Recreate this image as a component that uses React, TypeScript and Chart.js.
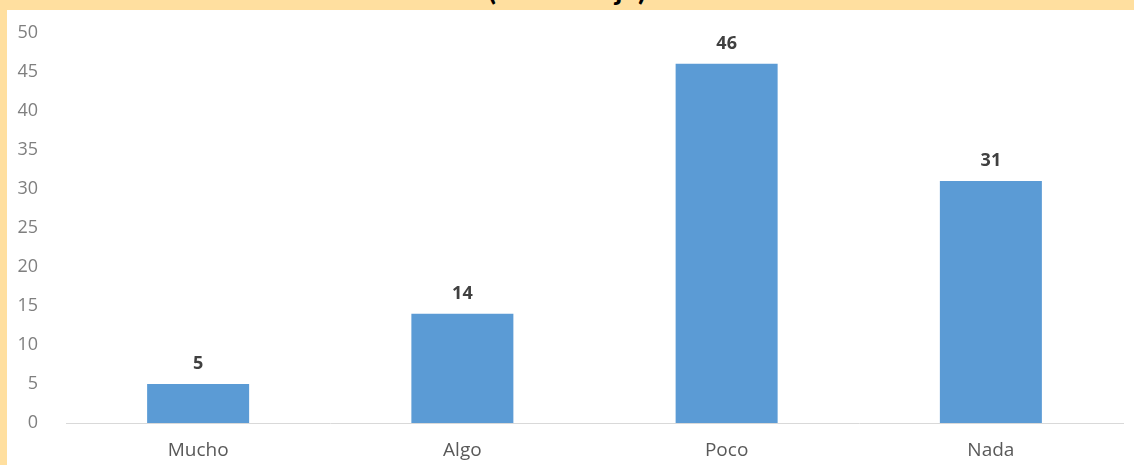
import React, { useEffect, useRef } from "react";
import { Chart, registerables } from "chart.js";

Chart.register(...registerables);

const categories = ["Mucho", "Algo", "Poco", "Nada"];
const values = [5, 14, 46, 31];
const titleText = "(Porcentaje)";

const dataLabelPlugin = {
  id: "dataLabels",
  afterDatasetsDraw(chart: any) {
    const ctx = chart.ctx;
    const meta = chart.getDatasetMeta(0);
    ctx.save();
    ctx.font = "bold 18px 'Open Sans'";
    ctx.fillStyle = "#404040";
    ctx.textAlign = "center";
    ctx.textBaseline = "middle";
    meta.data.forEach((bar: any, i: number) => {
      ctx.fillText(String(values[i]), bar.x, bar.y - 20);
    });
    ctx.restore();
  },
};

export default function App() {
  const ref = useRef<HTMLCanvasElement>(null);
  useEffect(() => {
    document.body.style.margin = "0";
    const chart = new Chart(ref.current!, {
      type: "bar",
      data: {
        labels: categories,
        datasets: [
          {
            data: values,
            backgroundColor: "#5B9BD5",
            borderWidth: 0,
            barPercentage: 0.386,
            categoryPercentage: 1,
          },
        ],
      },
      options: {
        animation: false,
        responsive: false,
        maintainAspectRatio: false,
        layout: { padding: { top: 22.5, right: 11, left: 0, bottom: 0 } },
        plugins: { legend: { display: false }, tooltip: { enabled: false }, title: { display: false } },
        scales: {
          x: {
            grid: { display: false },
            border: { display: true, color: "#D9D9D9", width: 1 },
            ticks: { color: "#595959", font: { family: "Open Sans", size: 19 }, padding: 8 },
            afterFit: (s: any) => { s.height = 42; s.paddingLeft = 0; s.paddingRight = 0; },
          },
          y: {
            min: 0,
            max: 50,
            grid: { display: false },
            border: { display: false },
            ticks: { stepSize: 5, color: "#7F7F7F", font: { family: "Open Sans", size: 18 }, padding: 20 },
            afterFit: (s: any) => { s.width = 59; s.paddingTop = 0; s.paddingBottom = 0; },
          },
        },
      },
      plugins: [dataLabelPlugin],
    });
    return () => chart.destroy();
  }, []);
  return (
    <div style={{ position: "fixed", left: 0, top: 0, width: 1134, height: 465, background: "#FFDF9F", overflow: "hidden" }}>
      <div style={{ position: "absolute", left: 0, top: -26, width: 1134, textAlign: "center", fontFamily: "Lato", fontWeight: "bold", fontSize: 30, color: "#000", lineHeight: "28px" }}>
        {titleText}
      </div>
      <div style={{ position: "absolute", left: 7, top: 10, width: 1127, height: 455, background: "#fff" }}>
        <canvas ref={ref} width={1127} height={455} style={{ display: "block" }} />
      </div>
    </div>
  );
}
